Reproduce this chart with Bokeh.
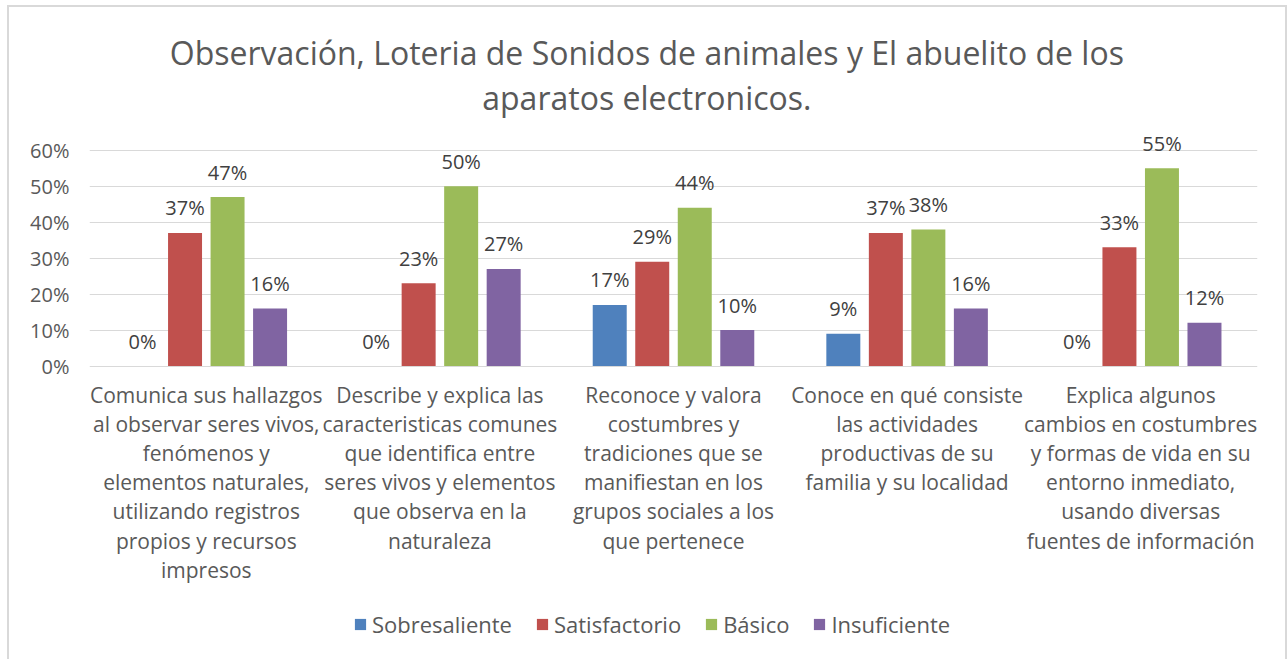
from bokeh.plotting import figure
from bokeh.models import ColumnDataSource, FixedTicker, Legend, LegendItem, Range1d
from bokeh.core.properties import value
from bokeh.embed import file_html
from bokeh.resources import INLINE

categories = [
    "Comunica sus hallazgos\nal observar seres vivos,\nfenómenos y\nelementos naturales,\nutilizando registros\npropios y recursos\nimpresos",
    "Describe y explica las\ncaracteristicas comunes\nque identifica entre\nseres vivos y elementos\nque observa en la\nnaturaleza",
    "Reconoce y valora\ncostumbres y\ntradiciones que se\nmanifiestan en los\ngrupos sociales a los\nque pertenece",
    "Conoce en qué consiste\nlas actividades\nproductivas de su\nfamilia y su localidad",
    "Explica algunos\ncambios en costumbres\ny formas de vida en su\nentorno inmediato,\nusando diversas\nfuentes de información",
]
series_names = ["Sobresaliente", "Satisfactorio", "Básico", "Insuficiente"]
sobresaliente = [0, 0, 17, 9, 0]
satisfactorio = [37, 23, 29, 37, 33]
basico = [47, 50, 44, 38, 55]
insuficiente = [16, 27, 10, 16, 12]
colors = ["#4F81BD", "#C0504D", "#9BBB59", "#8064A2"]
y_ticks = [0, 10, 20, 30, 40, 50, 60]
title_lines = ["Observación, Loteria de Sonidos de animales y El abuelito de los",
               "aparatos electronicos."]

FONT = "Open Sans"
TXT = "#595959"

# frame geometry (pixels)
FRAME_H = 654
ZERO_PX = 358.5       # distance of the 0% line from the frame top
PX_PER_UNIT = 3.595   # pixels per percentage point

y0 = -(FRAME_H - ZERO_PX) / PX_PER_UNIT
y1 = ZERO_PX / PX_PER_UNIT

p = figure(frame_width=1168, frame_height=FRAME_H, output_backend="svg", toolbar_location=None,
           title_location=None,
           x_range=Range1d(0, len(categories)), y_range=Range1d(y0, y1),
           min_border_left=80, min_border_right=28, min_border_top=0, min_border_bottom=0)
p.styles = {"border": "2px solid #d9d9d9", "margin": "5px 0 0 7px"}
p.outline_line_color = None
p.background_fill_color = "white"
p.border_fill_color = "white"

# title (two centred lines, centred on the whole chart box)
title_x = 2.386
p.text(x=[title_x, title_x], y=[(ZERO_PX - 45) / PX_PER_UNIT, (ZERO_PX - 90) / PX_PER_UNIT],
       text=title_lines, text_align="center", text_baseline="middle",
       text_font=value(FONT), text_font_size="32px", text_color=TXT)

step = 0.182
bw = 0.1455
all_series = [sobresaliente, satisfactorio, basico, insuficiente]
items = []
for i, (name, vals, col) in enumerate(zip(series_names, all_series, colors)):
    xs = [k + 0.5 + (i - 1.5) * step for k in range(len(categories))]
    src = ColumnDataSource(dict(x=xs, top=vals, lab=[f"{v}%" for v in vals]))
    r = p.vbar(x="x", top="top", width=bw, source=src, fill_color=col, line_color=None)
    p.text(x="x", y="top", text="lab", source=src, text_align="center", text_baseline="middle",
           y_offset=-25, text_font=value(FONT), text_font_size="20px", text_color="#404040")
    items.append(LegendItem(label=name, renderers=[r]))

# category labels under the baseline
p.text(x=[k + 0.5 for k in range(len(categories))], y=[0] * len(categories), text=categories,
       text_align="center", text_baseline="top", y_offset=15, text_line_height=1.04,
       text_font=value(FONT), text_font_size="21px", text_color=TXT)

p.xaxis.visible = False
p.xgrid.grid_line_color = None

p.yaxis.ticker = FixedTicker(ticks=y_ticks)
p.yaxis.major_label_overrides = {t: f"{t}%" for t in y_ticks}
p.yaxis.major_label_text_font = FONT
p.yaxis.major_label_text_font_size = "20px"
p.yaxis.major_label_text_color = TXT
p.yaxis.major_tick_line_color = None
p.yaxis.minor_tick_line_color = None
p.yaxis.axis_line_color = None
p.yaxis.major_label_standoff = 14
p.ygrid.grid_line_color = "#d9d9d9"
p.ygrid.ticker = FixedTicker(ticks=y_ticks)

legend = Legend(items=items, orientation="horizontal", location=(264, 22),
                label_text_font=FONT, label_text_font_size="22px", label_text_color=TXT,
                glyph_width=14, glyph_height=14, spacing=23, label_standoff=5,
                border_line_color=None, background_fill_alpha=0, margin=0, padding=4)
p.add_layout(legend, "center")

open("out.html", "w").write(file_html(p, INLINE))
